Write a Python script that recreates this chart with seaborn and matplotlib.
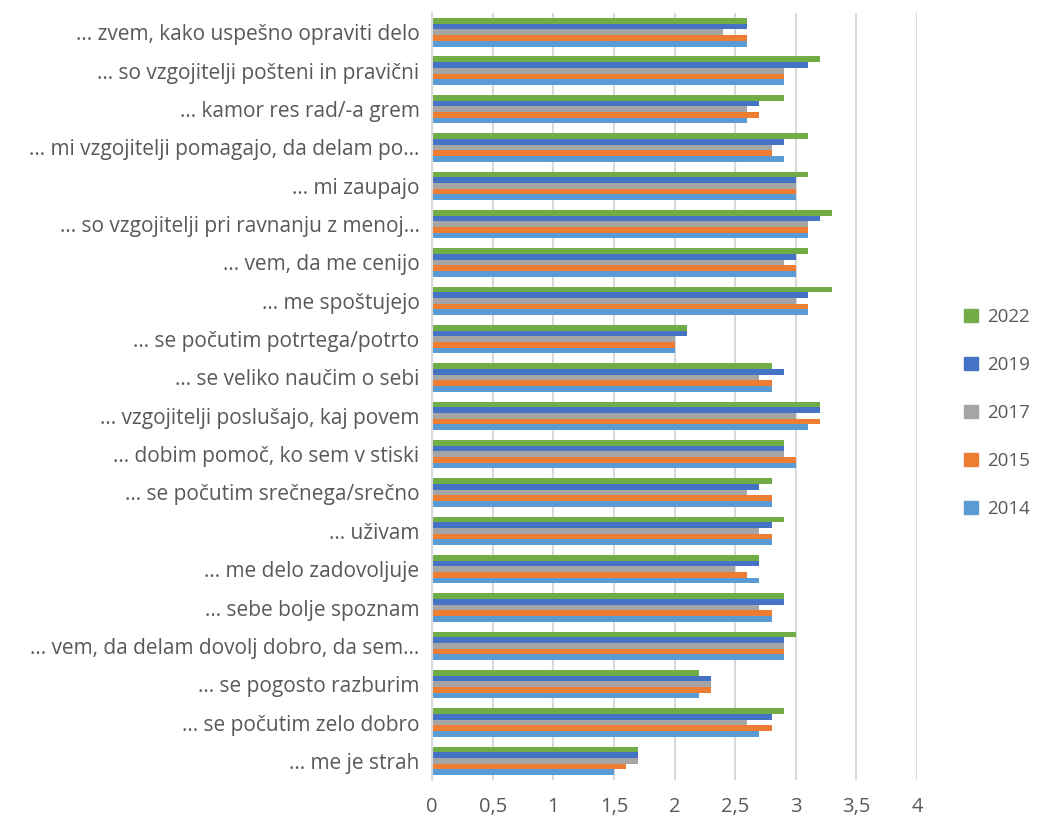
import pandas as pd
import matplotlib
matplotlib.use("Agg")
import matplotlib.pyplot as plt
import seaborn as sns

sns.set_theme(style="white")
plt.rcParams['font.family'] = ['Open Sans', 'DejaVu Sans']

items = [
    "… zvem, kako uspešno opraviti delo",
    "… so vzgojitelji pošteni in pravični",
    "… kamor res rad/-a grem",
    "… mi vzgojitelji pomagajo, da delam po…",
    "… mi zaupajo",
    "… so vzgojitelji pri ravnanju z menoj…",
    "… vem, da me cenijo",
    "… me spoštujejo",
    "… se počutim potrtega/potrto",
    "… se veliko naučim o sebi",
    "… vzgojitelji poslušajo, kaj povem",
    "… dobim pomoč, ko sem v stiski",
    "… se počutim srečnega/srečno",
    "… uživam",
    "… me delo zadovoljuje",
    "… sebe bolje spoznam",
    "… vem, da delam dovolj dobro, da sem…",
    "… se pogosto razburim",
    "… se počutim zelo dobro",
    "… me je strah",
]

y2022 = [2.6, 3.2, 2.9, 3.1, 3.1, 3.3, 3.1, 3.3, 2.1, 2.8, 3.2, 2.9, 2.8, 2.9, 2.7, 2.9, 3.0, 2.2, 2.9, 1.7]
y2019 = [2.6, 3.1, 2.7, 2.9, 3.0, 3.2, 3.0, 3.1, 2.1, 2.9, 3.2, 2.9, 2.7, 2.8, 2.7, 2.9, 2.9, 2.3, 2.8, 1.7]
y2017 = [2.4, 2.9, 2.6, 2.8, 3.0, 3.1, 2.9, 3.0, 2.0, 2.7, 3.0, 2.9, 2.6, 2.7, 2.5, 2.7, 2.9, 2.3, 2.6, 1.7]
y2015 = [2.6, 2.9, 2.7, 2.8, 3.0, 3.1, 3.0, 3.1, 2.0, 2.8, 3.2, 3.0, 2.8, 2.8, 2.6, 2.8, 2.9, 2.3, 2.8, 1.6]
y2014 = [2.6, 2.9, 2.6, 2.9, 3.0, 3.1, 3.0, 3.1, 2.0, 2.8, 3.1, 3.0, 2.8, 2.8, 2.7, 2.8, 2.9, 2.2, 2.7, 1.5]

years = ["2022", "2019", "2017", "2015", "2014"]
colors = {"2022": "#70AD47", "2019": "#4472C4", "2017": "#A5A5A5",
          "2015": "#ED7D31", "2014": "#5B9BD5"}

series = {"2022": y2022, "2019": y2019, "2017": y2017, "2015": y2015, "2014": y2014}
rows = []
for yr in years:
    for it, v in zip(items, series[yr]):
        rows.append({"item": it, "leto": yr, "vrednost": v})
df = pd.DataFrame(rows)

fig = plt.figure(figsize=(10.39, 8.22), dpi=100)
ax = fig.add_axes([0.4158, 0.051, 0.4668, 0.933])

sns.barplot(data=df, y="item", x="vrednost", hue="leto", hue_order=years,
            order=items, palette=colors, orient="h", width=0.74,
            saturation=1, linewidth=0, ax=ax)

ax.set_xlim(0, 4)
ax.set_xticks([0, 0.5, 1, 1.5, 2, 2.5, 3, 3.5, 4])
ax.set_xticklabels(["0", "0,5", "1", "1,5", "2", "2,5", "3", "3,5", "4"])
ax.set_xlabel("")
ax.set_ylabel("")
ax.xaxis.grid(True, color="#D9D9D9", linewidth=1.5)
ax.set_axisbelow(True)
for s in ["top", "right", "bottom"]:
    ax.spines[s].set_visible(False)
ax.spines["left"].set_color("#D9D9D9")
ax.spines["left"].set_linewidth(1.5)
ax.tick_params(axis="both", length=0, labelcolor="#595959")
ax.tick_params(axis="x", pad=12, labelsize=14.5)
ax.tick_params(axis="y", pad=9, labelsize=15)

ax.legend_.remove()
handles = [plt.Rectangle((0, 0), 1, 1, color=colors[y]) for y in years]
fig.legend(handles, years, loc="center left", bbox_to_anchor=(0.912, 0.497),
           frameon=False, fontsize=13.5, labelcolor="#595959",
           handlelength=0.7, handleheight=0.7, labelspacing=1.6, handletextpad=0.5)

fig.savefig("out.png", dpi=100)
